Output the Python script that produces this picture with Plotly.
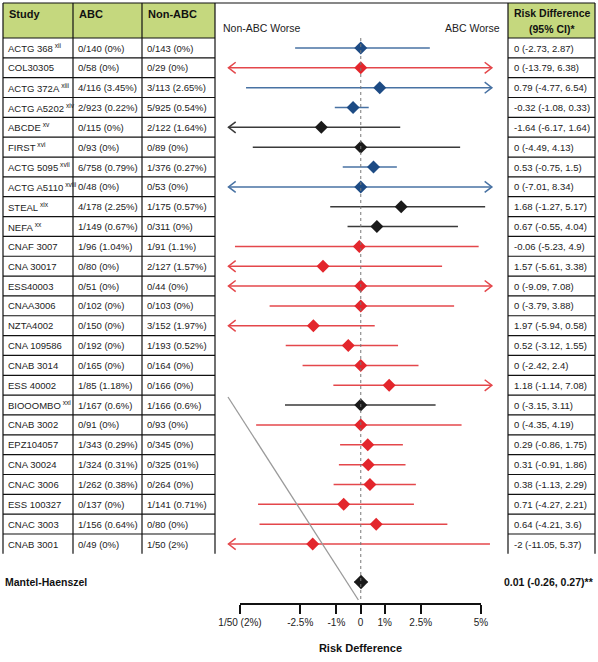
import plotly.graph_objects as go

# ---------------- data ----------------
studies = ["ACTG 368", "COL30305", "ACTG 372A", "ACTG A5202", "ABCDE", "FIRST",
           "ACTG 5095", "ACTG A5110", "STEAL", "NEFA", "CNAF 3007", "CNA 30017",
           "ESS40003", "CNAA3006", "NZTA4002", "CNA 109586", "CNAB 3014",
           "ESS 40002", "BIOOOMBO", "CNAB 3002", "EPZ104057", "CNA 30024",
           "CNAC 3006", "ESS 100327", "CNAC 3003", "CNAB 3001"]
refs = ["xii", "", "xiii", "xiv", "xv", "xvi", "xvii", "xviii", "xix", "xx",
        "", "", "", "", "", "", "", "", "xxi", "", "", "", "", "", "", ""]
abc = ["0/140 (0%)", "0/58 (0%)", "4/116 (3.45%)", "2/923 (0.22%)", "0/115 (0%)",
       "0/93 (0%)", "6/758 (0.79%)", "0/48 (0%)", "4/178 (2.25%)", "1/149 (0.67%)",
       "1/96 (1.04%)", "0/80 (0%)", "0/51 (0%)", "0/102 (0%)", "0/150 (0%)",
       "0/192 (0%)", "0/165 (0%)", "1/85 (1.18%)", "1/167 (0.6%)", "0/91 (0%)",
       "1/343 (0.29%)", "1/324 (0.31%)", "1/262 (0.38%)", "0/137 (0%)",
       "1/156 (0.64%)", "0/49 (0%)"]
non_abc = ["0/143 (0%)", "0/29 (0%)", "3/113 (2.65%)", "5/925 (0.54%)", "2/122 (1.64%)",
           "0/89 (0%)", "1/376 (0.27%)", "0/53 (0%)", "1/175 (0.57%)", "0/311 (0%)",
           "1/91 (1.1%)", "2/127 (1.57%)", "0/44 (0%)", "0/103 (0%)", "3/152 (1.97%)",
           "1/193 (0.52%)", "0/164 (0%)", "0/166 (0%)", "1/166 (0.6%)", "0/93 (0%)",
           "0/345 (0%)", "0/325 (01%)", "0/264 (0%)", "1/141 (0.71%)", "0/80 (0%)",
           "1/50 (2%)"]
rd_text = ["0 (-2.73, 2.87)", "0 (-13.79, 6.38)", "0.79 (-4.77, 6.54)",
           "-0.32 (-1.08, 0.33)", "-1.64 (-6.17, 1.64)", "0 (-4.49, 4.13)",
           "0.53 (-0.75, 1.5)", "0 (-7.01, 8.34)", "1.68 (-1.27, 5.17)",
           "0.67 (-0.55, 4.04)", "-0.06 (-5.23, 4.9)", "1.57 (-5.61, 3.38)",
           "0 (-9.09, 7.08)", "0 (-3.79, 3.88)", "1.97 (-5.94, 0.58)",
           "0.52 (-3.12, 1.55)", "0 (-2.42, 2.4)", "1.18 (-1.14, 7.08)",
           "0 (-3.15, 3.11)", "0 (-4.35, 4.19)", "0.29 (-0.86, 1.75)",
           "0.31 (-0.91, 1.86)", "0.38 (-1.13, 2.29)", "0.71 (-4.27, 2.21)",
           "0.64 (-4.21, 3.6)", "-2 (-11.05, 5.37)"]
# plotted point estimates (as drawn in the picture)
est = [0, 0, 0.79, -0.32, -1.64, 0, 0.53, 0, 1.68, 0.67, -0.06, -1.57, 0, 0,
       -1.97, -0.52, 0, 1.18, 0, 0, 0.29, 0.31, 0.38, -0.71, 0.64, -2]
lo = [-2.73, -13.79, -4.77, -1.08, -6.17, -4.49, -0.75, -7.01, -1.27, -0.55,
      -5.23, -5.61, -9.09, -3.79, -5.94, -3.12, -2.42, -1.14, -3.15, -4.35,
      -0.86, -0.91, -1.13, -4.27, -4.21, -11.05]
hi = [2.87, 6.38, 6.54, 0.33, 1.64, 4.13, 1.5, 8.34, 5.17, 4.04, 4.9, 3.38,
      7.08, 3.88, 0.58, 1.55, 2.4, 7.08, 3.11, 4.19, 1.75, 1.86, 2.29, 2.21,
      3.6, 5.37]
group = ["blue", "red", "blue", "blue", "black", "black", "blue", "blue", "black",
         "black", "red", "red", "red", "red", "red", "red", "red", "red", "black",
         "red", "red", "red", "red", "red", "red", "red"]

pooled_label = "Mantel-Haenszel"
pooled_text = "0.01 (-0.26, 0.27)**"
pooled_est, pooled_lo, pooled_hi = 0.01, -0.26, 0.27

tick_vals = [-5, -2.5, -1, 0, 1, 2.5, 5]
tick_text = ["1/50 (2%)", "-2.5%", "-1%", "0", "1%", "2.5%", "5%"]

# ---------------- styling ----------------
W, H = 598, 662
FONT = "Liberation Sans, Arial, sans-serif"
line_col = {"blue": "#4872a3", "red": "#e4474b", "black": "#3a3a3a"}
dot_col = {"blue": "#1d4b84", "red": "#e3262c", "black": "#1a1a1a"}
GREEN = "#c5d87e"

ROW0, ROWH = 48.0, 19.84          # pixel centre of first row, row pitch
XMIN, XMAX = -6.06, 6.12          # forest panel range
CLIP_L, CLIP_R = -5.5, 5.45       # where arrows are drawn

def px(x):
    return x / W

def py(y):
    return 1 - y / H

def prow(y):  # pixel y -> row coordinate
    return (y - ROW0) / ROWH

n = len(studies)
rows = list(range(n))
pooled_row = prow(582)

fig = go.Figure()

for g in ["blue", "red", "black"]:
    lx, ly, ax, ay, mx, my = [], [], [], [], [], []
    for i in rows:
        if group[i] != g:
            continue
        a = max(lo[i], CLIP_L)
        b = min(hi[i], CLIP_R)
        lx += [a, b, None]
        ly += [i, i, None]
        if lo[i] < CLIP_L:
            ax += [a + 0.3, a, a + 0.3, None]
            ay += [i - 0.28, i, i + 0.28, None]
        if hi[i] > CLIP_R:
            ax += [b - 0.3, b, b - 0.3, None]
            ay += [i - 0.28, i, i + 0.28, None]
        mx.append(est[i])
        my.append(i)
    fig.add_trace(go.Scatter(x=lx, y=ly, mode="lines",
                             line=dict(color=line_col[g], width=1.5),
                             hoverinfo="skip", showlegend=False))
    if ax:
        fig.add_trace(go.Scatter(x=ax, y=ay, mode="lines",
                                 line=dict(color=line_col[g], width=1.5),
                                 hoverinfo="skip", showlegend=False))
    fig.add_trace(go.Scatter(x=mx, y=my, mode="markers",
                             marker=dict(symbol="diamond", size=10, color=dot_col[g],
                                         line=dict(width=0)),
                             showlegend=False))

# pooled estimate
fig.add_trace(go.Scatter(x=[pooled_lo, pooled_hi], y=[pooled_row, pooled_row],
                         mode="lines", line=dict(color="#1a1a1a", width=2),
                         hoverinfo="skip", showlegend=False))
fig.add_trace(go.Scatter(x=[pooled_est], y=[pooled_row], mode="markers",
                         marker=dict(symbol="diamond", size=11, color="#1a1a1a"),
                         showlegend=False))

# invisible trace for the tick axis
fig.add_trace(go.Scatter(x=[tick_vals[0], tick_vals[-1]], y=[0, 0], xaxis="x2",
                         yaxis="y2", mode="markers", marker=dict(opacity=0),
                         hoverinfo="skip", showlegend=False))

shapes = []
shapes.append(dict(type="line", xref="x", yref="y", x0=0, x1=0,
                   y0=prow(38), y1=prow(600),
                   line=dict(color="#777777", width=1, dash="dot")))
shapes.append(dict(type="line", xref="x", yref="y", x0=-5.52, y0=prow(397),
                   x1=-0.1, y1=prow(600),
                   line=dict(color="#9a9a9a", width=1.3)))

HTOP, HBOT = 3, 38
shapes.append(dict(type="rect", xref="paper", yref="paper", x0=px(3), x1=px(215),
                   y0=py(HTOP), y1=py(HBOT), fillcolor=GREEN, line=dict(width=0),
                   layer="below"))
shapes.append(dict(type="rect", xref="paper", yref="paper", x0=px(508), x1=px(595),
                   y0=py(HTOP), y1=py(HBOT), fillcolor=GREEN, line=dict(width=0),
                   layer="below"))
TB = dict(color="#111111", width=1.2)
TBOT = HBOT + ROWH * n
shapes.append(dict(type="line", xref="paper", yref="paper", x0=px(3), x1=px(595),
                   y0=py(HTOP), y1=py(HTOP), line=TB))
for xv in [3, 73, 142, 215, 508, 595]:
    shapes.append(dict(type="line", xref="paper", yref="paper", x0=px(xv), x1=px(xv),
                       y0=py(HTOP), y1=py(TBOT), line=TB))
for k in range(n):
    yv = HBOT + ROWH * k
    shapes.append(dict(type="line", xref="paper", yref="paper", x0=px(3), x1=px(215),
                       y0=py(yv), y1=py(yv), line=TB))
    shapes.append(dict(type="line", xref="paper", yref="paper", x0=px(508), x1=px(595),
                       y0=py(yv), y1=py(yv), line=TB))

ann = []

def fnt(size, bold=False):
    return dict(family=FONT, size=size, color="#111111" if bold else "#222222")

def add_text(x, y, text, font, xanchor="left", yref="paper"):
    ann.append(dict(x=x, y=y, xref="paper", yref=yref, text=text, showarrow=False,
                    xanchor=xanchor, yanchor="middle", font=font))

add_text(px(7), py(14), "<b>Study</b>", fnt(11, True))
add_text(px(77), py(14), "<b>ABC</b>", fnt(11, True))
add_text(px(146), py(14), "<b>Non-ABC</b>", fnt(11, True))
add_text(px(552), py(13), "<b>Risk Difference</b>", fnt(10.5, True), "center")
add_text(px(552), py(29), "<b>(95% CI)*</b>", fnt(10.5, True), "center")
add_text(px(221), py(28), "Non-ABC Worse", fnt(10.5))
add_text(px(502), py(28), "ABC Worse", fnt(10.5), "right")

for i in rows:
    name = studies[i] + ("\u2009<sup>" + refs[i] + "</sup>" if refs[i] else "")
    add_text(px(6), i, name, fnt(9.5), yref="y")
    add_text(px(76), i, abc[i], fnt(9.5), yref="y")
    add_text(px(145), i, non_abc[i], fnt(9.5), yref="y")
    add_text(px(512), i, rd_text[i], fnt(9.5), yref="y")

add_text(px(3), pooled_row, "<b>" + pooled_label + "</b>", fnt(10.5, True), yref="y")
add_text(px(596), pooled_row, "<b>" + pooled_text + "</b>", fnt(10.5, True),
         "right", yref="y")

fig.update_layout(
    width=W, height=H, margin=dict(l=0, r=0, t=0, b=0, autoexpand=False),
    paper_bgcolor="white", plot_bgcolor="rgba(0,0,0,0)",
    font=dict(family=FONT, size=10, color="#222222"),
    showlegend=False, shapes=shapes, annotations=ann,
    xaxis=dict(domain=[px(215), px(508)], range=[XMIN, XMAX], visible=False,
               anchor="y", fixedrange=True, automargin=False),
    yaxis=dict(domain=[0, 1], range=[prow(H), prow(0)], visible=False,
               fixedrange=True, automargin=False),
    xaxis2=dict(domain=[px(240), px(481)], range=[tick_vals[0], tick_vals[-1]],
                anchor="y2", side="bottom", showline=True, linecolor="#111111",
                linewidth=1.5, ticks="outside", ticklen=9, tickwidth=1.5,
                tickcolor="#111111", tickvals=tick_vals, ticktext=tick_text,
                showgrid=False, zeroline=False, automargin=False,
                tickfont=dict(family=FONT, size=10, color="#222222"),
                title=dict(text="<b>Risk Defference</b>", standoff=18,
                           font=dict(family=FONT, size=11, color="#111111")),
                fixedrange=True),
    yaxis2=dict(domain=[py(603), py(596)], range=[0, 1], visible=False,
                anchor="x2", fixedrange=True, automargin=False),
)

fig.write_html("out.html", config={"displayModeBar": False},
               post_script="document.body.style.margin='0';")
